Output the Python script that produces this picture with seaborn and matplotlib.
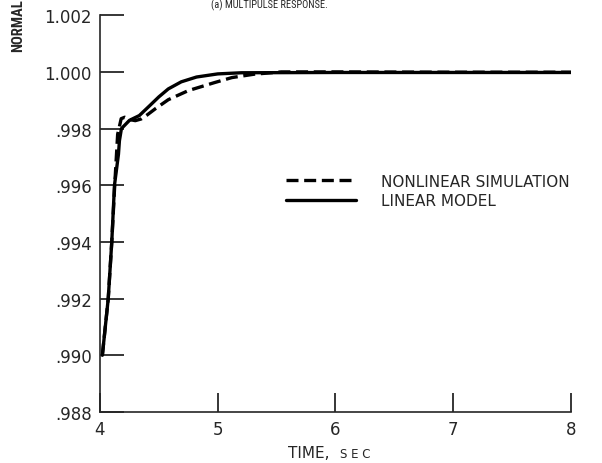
import matplotlib
matplotlib.use("Agg")
import matplotlib.pyplot as plt
import seaborn as sns
import pandas as pd

# Time (sec) and normalized response for each series
nonlinear_t = [4.02, 4.07, 4.10, 4.125, 4.15, 4.18, 4.21, 4.25, 4.30, 4.35, 4.40,
               4.47, 4.58, 4.75, 4.97, 5.12, 5.31, 5.54, 6.0, 7.0, 8.0]
nonlinear_y = [0.9900, 0.9920, 0.9940, 0.9960, 0.9978, 0.99835, 0.99840, 0.99832,
               0.99828, 0.99834, 0.99848, 0.99870, 0.99902, 0.99934, 0.99962,
               0.99980, 0.99992, 1.00000, 1.00000, 0.99999, 0.99999]

linear_t = [4.02, 4.07, 4.10, 4.123, 4.157, 4.165, 4.182, 4.25, 4.334, 4.42, 4.50,
            4.58, 4.69, 4.82, 5.0, 5.2, 6.0, 7.0, 8.0]
linear_y = [0.9900, 0.9920, 0.9940, 0.9960, 0.9971, 0.99757, 0.99800, 0.99829,
            0.99846, 0.99880, 0.99912, 0.99940, 0.99965, 0.99982, 0.99993,
            0.99997, 0.99998, 0.99998, 0.99998]

series_names = ["NONLINEAR SIMULATION", "LINEAR MODEL"]
x_ticks = [4, 5, 6, 7, 8]
y_ticks = [0.988, 0.990, 0.992, 0.994, 0.996, 0.998, 1.000, 1.002]
y_tick_labels = [".988", ".990", ".992", ".994", ".996", ".998", "1.000", "1.002"]

df = pd.concat([
    pd.DataFrame({"t": nonlinear_t, "y": nonlinear_y, "series": series_names[0]}),
    pd.DataFrame({"t": linear_t, "y": linear_y, "series": series_names[1]}),
])

sns.set_style("ticks")
plt.rcParams["font.family"] = ["DejaVu Sans"]
narrow = ["Roboto Condensed", "DejaVu Sans"]

fig = plt.figure(figsize=(6.02, 4.64), dpi=100)
ax = fig.add_axes([0.1661, 0.110, 0.7824, 0.855])

sns.lineplot(data=df, x="t", y="y", hue="series", style="series",
             palette={series_names[0]: "black", series_names[1]: "black"},
             dashes={series_names[0]: (3.6, 1.7), series_names[1]: ""},
             linewidth=2.4, sort=False, estimator=None, ax=ax)

ax.set_xlim(4, 8)
ax.set_ylim(0.988, 1.002)
ax.set_xticks(x_ticks)
ax.set_xticklabels([str(v) for v in x_ticks])
ax.set_yticks(y_ticks)
ax.set_yticklabels(y_tick_labels)
ax.tick_params(axis="y", direction="in", length=17, width=1.3, labelsize=12, pad=6)
ax.tick_params(axis="x", direction="in", length=14, width=1.3, labelsize=12, pad=6)
for s in ("top", "right"):
    ax.spines[s].set_visible(False)
for s in ("left", "bottom"):
    ax.spines[s].set_linewidth(1.2)
ax.set_xlabel("")
ax.set_ylabel("")

handles, labels = ax.get_legend_handles_labels()
ax.legend(handles, labels, frameon=False, loc="upper left",
          bbox_to_anchor=(0.366, 0.635), fontsize=11, handlelength=4.6,
          handletextpad=1.6, labelspacing=0.3)

# axis titles
fig.text(0.548, 0.014, "TIME,", fontsize=11, ha="right", va="baseline")
fig.text(0.564, 0.014, "S E C", fontsize=8.5, ha="left", va="baseline")
fig.text(0.030, 0.888, "NORMAL", rotation=90, fontsize=10.5, family=narrow,
         fontweight="bold", ha="center", va="bottom")
fig.text(0.447, 0.982, "(a) MULTIPULSE RESPONSE.", fontsize=7.5, family=narrow,
         ha="center", va="baseline")

fig.savefig("out.png", dpi=100)
